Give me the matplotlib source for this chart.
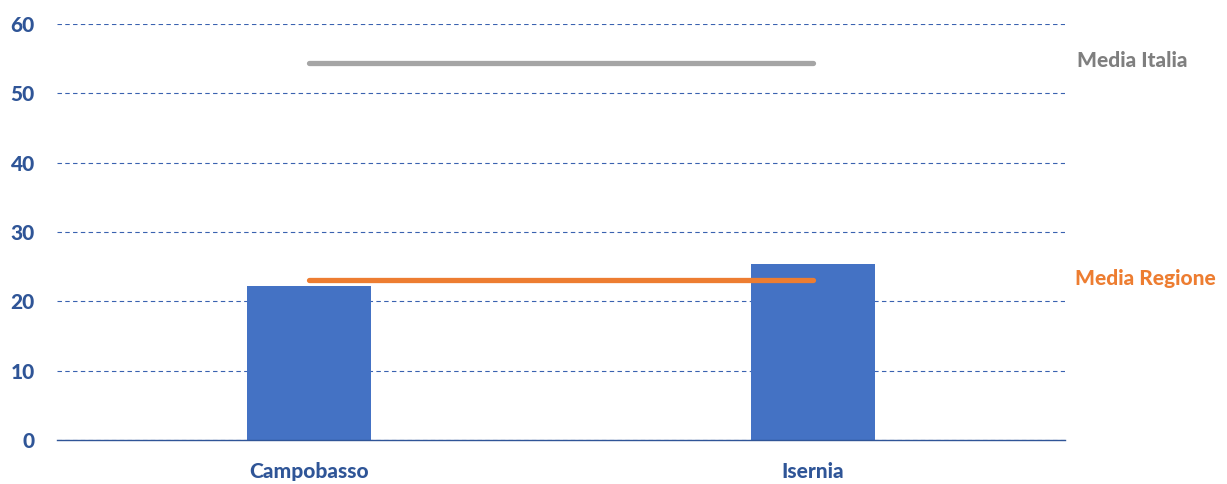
import matplotlib.pyplot as plt

# dati
province = ["Campobasso", "Isernia"]
valori = [22.2, 25.4]
media_italia = [54.4, 54.4]
media_regione = [23.1, 23.1]
y_ticks = [0, 10, 20, 30, 40, 50, 60]

plt.rcParams['font.family'] = ['Lato', 'DejaVu Sans']
FW = 900

fig = plt.figure(figsize=(12.27, 4.84), dpi=100)
ax = fig.add_axes([57 / 1227, 1 - 440 / 484, 1008 / 1227, 416 / 484])

x = list(range(len(province)))
ax.bar(x, valori, width=0.245, color="#4472C4", zorder=3)

ax.plot(x, media_italia, color="#A5A5A5", lw=3.8, solid_capstyle="round", zorder=4)
ax.plot(x, media_regione, color="#ED7D31", lw=3.8, solid_capstyle="round", zorder=4)

ax.set_xlim(-0.5, 1.5)
ax.set_ylim(0, 60)
ax.set_yticks(y_ticks)
ax.set_xticks(x)
ax.set_xticklabels(province)

for lab in ax.get_xticklabels() + ax.get_yticklabels():
    lab.set_fontweight(FW)
    lab.set_fontsize(15)
    lab.set_color("#2F5597")

ax.tick_params(axis="both", length=0)
ax.tick_params(axis="y", pad=16)
ax.tick_params(axis="x", pad=16)

ax.grid(axis="y", color="#3A62B0", linestyle=(0, (4, 3)), lw=0.8, zorder=0)
for s in ["top", "right", "left"]:
    ax.spines[s].set_visible(False)
ax.spines["bottom"].set_color("#2F5597")
ax.spines["bottom"].set_linewidth(1.0)
ax.spines["bottom"].set_zorder(5)

ax.text(1.523, media_italia[-1] + 0.3, "Media Italia", color="#7F7F7F", fontsize=15,
        fontweight=FW, va="center", ha="left", clip_on=False)
ax.text(1.52, media_regione[-1] + 0.2, "Media Regione", color="#ED7D31", fontsize=15,
        fontweight=FW, va="center", ha="left", clip_on=False)

fig.savefig("out.png", dpi=100)
